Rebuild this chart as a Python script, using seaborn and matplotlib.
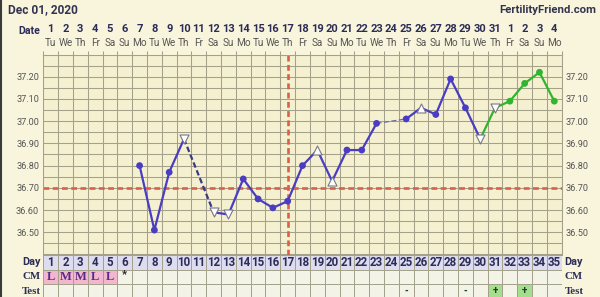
import matplotlib
matplotlib.use("Agg")
import matplotlib.pyplot as plt
import matplotlib.transforms as mtransforms
from matplotlib.lines import Line2D
import numpy as np
import pandas as pd
import seaborn as sns

# ---------------- data ----------------
chart_title = "Dec 01, 2020"
site_name = "FertilityFriend.com"

days = list(range(1, 36))
date_labels = ["1", "2", "3", "4", "5", "6", "7", "8", "9", "10", "11", "12", "13", "14",
               "15", "16", "17", "18", "19", "20", "21", "22", "23", "24", "25", "26", "27",
               "28", "29", "30", "31", "1", "2", "3", "4"]
weekday_labels = ["Tu", "We", "Th", "Fr", "Sa", "Su", "Mo", "Tu", "We", "Th", "Fr", "Sa", "Su", "Mo",
                  "Tu", "We", "Th", "Fr", "Sa", "Su", "Mo", "Tu", "We", "Th", "Fr", "Sa", "Su", "Mo",
                  "Tu", "We", "Th", "Fr", "Sa", "Su", "Mo"]

bbt_days = [7, 8, 9, 10, 12, 13, 14, 15, 16, 17, 18, 19, 20, 21, 22, 23, 25, 26, 27, 28,
            29, 30, 31, 32, 33, 34, 35]
bbt_temps = [36.80, 36.51, 36.77, 36.92, 36.59, 36.58, 36.74, 36.65, 36.61, 36.64, 36.80,
             36.87, 36.73, 36.87, 36.87, 36.99, 37.01, 37.06, 37.03, 37.19, 37.06, 36.92,
             37.06, 37.09, 37.17, 37.22, 37.09]
bbt_kind = ["dot", "dot", "dot", "down", "down", "down", "dot", "dot", "dot", "dot", "dot",
            "up", "up", "dot", "dot", "dot", "dot", "up", "dot", "dot", "dot", "down",
            "down", "dot", "dot", "dot", "dot"]
bbt_phase = ["cycle"] * 22 + ["new"] * 5

# (first day, last day, style)
line_segments = [(7, 10, "solid"), (10, 12, "dashed"), (12, 23, "solid"),
                 (23, 25, "gap"), (25, 30, "solid"), (30, 35, "green")]

coverline_temp = 36.70
ovulation_day = 17

temp_tick_values = [36.50, 36.60, 36.70, 36.80, 36.90, 37.00, 37.10, 37.20]
temp_tick_labels = ["36.50", "36.60", "36.70", "36.80", "36.90", "37.00", "37.10", "37.20"]

cm_days = [1, 2, 3, 4, 5, 6]
cm_labels = ["L", "M", "M", "L", "L", "*"]
test_days = [25, 29, 31, 33]
test_labels = ["-", "-", "+", "+"]

# ---------------- style ----------------
sns.set_style("white")
plt.rcParams["font.family"] = ["Roboto", "DejaVu Sans"]

W, H = 600, 297
FIG_BG = "#f8f5dc"
AX_BG = "#f5f1d0"
GRID = "#a3a18a"
BLUE = "#4a3dc2"
GREEN = "#2fb52f"
RED = "#d9604a"
NAVY = "#2c2c58"
GRAYTXT = "#555555"

fig = plt.figure(figsize=(W / 100, H / 100), dpi=100, facecolor=FIG_BG)

def px_axes(l, t, r, b):
    return fig.add_axes([l / W, 1 - b / H, (r - l) / W, (b - t) / H])

ax = px_axes(43.3, 54.5, 561.7, 254.5)
ax.set_facecolor(AX_BG)
ax.set_xlim(0.5, 35.5)
ax.set_ylim(36.40, 37.30)

# grid
ax.set_xticks([d + 0.5 for d in [0] + days], minor=True)
ax.set_xticks([])
ax.set_yticks(np.round(np.arange(36.40, 37.301, 0.05), 2), minor=True)
ax.set_yticks(temp_tick_values, temp_tick_labels)
ax.grid(True, which="both", color=GRID, linewidth=0.75, zorder=0)
ax.set_axisbelow(True)
ax.tick_params(axis="x", which="minor", top=True, bottom=False, direction="out",
               length=3, width=0.75, color=GRID)
ax.tick_params(axis="y", which="both", length=0, labelsize=6.6, labelcolor=GRAYTXT,
               left=False, right=False, labelleft=True, labelright=True, pad=3)
for s in ax.spines.values():
    s.set_color(GRID)
    s.set_linewidth(0.75)

# coverline + ovulation line
ax.axhline(coverline_temp, color=RED, linewidth=1.9, linestyle=(0, (2.2, 1.3)), zorder=2)
ax.axvline(ovulation_day, color=RED, linewidth=1.9, linestyle=(0, (2.2, 1.3)), zorder=2)

df = pd.DataFrame({"day": bbt_days, "temp": bbt_temps, "kind": bbt_kind, "phase": bbt_phase})

seg_style = {
    "solid": dict(color=BLUE, linewidth=1.6, linestyle="-"),
    "dashed": dict(color="#3a3a88", linewidth=1.6, linestyle=(0, (2.5, 1.3))),
    "gap": dict(color="#6a6aa6", linewidth=0.9, linestyle=(0, (4, 2))),
    "green": dict(color=GREEN, linewidth=1.6, linestyle="-"),
}
for a, b, st in line_segments:
    sub = df[(df.day >= a) & (df.day <= b)]
    sns.lineplot(data=sub, x="day", y="temp", ax=ax, estimator=None, sort=True,
                 legend=False, zorder=3, **seg_style[st])

dots = df[df.kind == "dot"]
sns.scatterplot(data=dots, x="day", y="temp", hue="phase",
                palette={"cycle": BLUE, "new": GREEN}, s=24, linewidth=0,
                ax=ax, legend=False, zorder=4)
for kind, mk in [("down", "v"), ("up", "^")]:
    sub = df[df.kind == kind]
    sns.scatterplot(data=sub, x="day", y="temp", marker=mk, s=42, color="white",
                    edgecolor="#77778a", linewidth=0.8, ax=ax, legend=False, zorder=4)
ax.set_xlabel("")
ax.set_ylabel("")

# header texts
trans = mtransforms.blended_transform_factory(ax.transData, ax.transAxes)
for d, lab, wd in zip(days, date_labels, weekday_labels):
    ax.text(d, 1.125, lab, transform=trans, ha="center", va="center", fontsize=8,
            fontweight="bold", color=NAVY)
    ax.text(d, 1.058, wd, transform=trans, ha="center", va="center", fontsize=7.2,
            color=GRAYTXT)
fig.text(8 / W, 1 - 10 / H, chart_title, ha="left", va="center", fontsize=8.6,
         fontweight="bold", color="#33334f")
fig.text(596 / W, 1 - 10 / H, site_name, ha="right", va="center", fontsize=8.2,
         fontweight="bold", color="#33334f")
fig.text(40 / W, 1 - 31 / H, "Date", ha="right", va="center", fontsize=7.6,
         fontweight="bold", color=NAVY)

# ---------------- table ----------------
tx = px_axes(43.3, 255, 561.7, 298.5)
tx.set_xlim(0.5, 35.5)
tx.set_ylim(3, 0)
tx.axis("off")
tx.patch.set_alpha(0)

day_bg = "#dedcef"
cell_bg = "#f4f3e7"
pink = "#f2b7cf"
testgreen = "#a4df8e"
cm_color = [pink if (d in cm_days and cm_labels[cm_days.index(d)] != "*") else cell_bg for d in days]
test_color = [testgreen if (d in test_days and test_labels[test_days.index(d)] == "+") else cell_bg for d in days]
tx.bar(days, 1, bottom=0, width=1, color=day_bg, edgecolor=GRID, linewidth=0.7)
tx.bar(days, 1, bottom=1, width=1, color=cm_color, edgecolor=GRID, linewidth=0.7)
tx.bar(days, 1, bottom=2, width=1, color=test_color, edgecolor=GRID, linewidth=0.7)

for d in days:
    tx.text(d, 0.5, str(d), ha="center", va="center", fontsize=8.3, fontweight="bold",
            color=NAVY)
for d, lab in zip(cm_days, cm_labels):
    if lab == "*":
        tx.text(d, 1.35, lab, ha="center", va="center", fontsize=8, fontweight="bold",
                color="#222222")
    else:
        tx.text(d, 1.5, lab, ha="center", va="center", fontsize=9, fontweight="bold",
                color="#5a2a82", family=["Liberation Serif", "DejaVu Serif"])
for d, lab in zip(test_days, test_labels):
    tx.text(d, 2.45, lab, ha="center", va="center", fontsize=7, fontweight="bold",
            color="#224422")

row_names = [("Day", 0.5, ["Roboto", "DejaVu Sans"]),
             ("CM", 1.5, ["Liberation Serif", "DejaVu Serif"]),
             ("Test", 2.5, ["Liberation Serif", "DejaVu Serif"])]
for name, yy, fam in row_names:
    tx.text(0.33, yy, name, ha="right", va="center", fontsize=7.8, fontweight="bold",
            color=NAVY, family=fam)
    tx.text(35.7, yy, name, ha="left", va="center", fontsize=7.8, fontweight="bold",
            color=NAVY, family=fam)

fig.add_artist(Line2D([1 / W, 1 / W], [0, 1], transform=fig.transFigure,
                      color="#3a3a3a", linewidth=1.5))

fig.savefig("out.png", dpi=100, facecolor=FIG_BG)
